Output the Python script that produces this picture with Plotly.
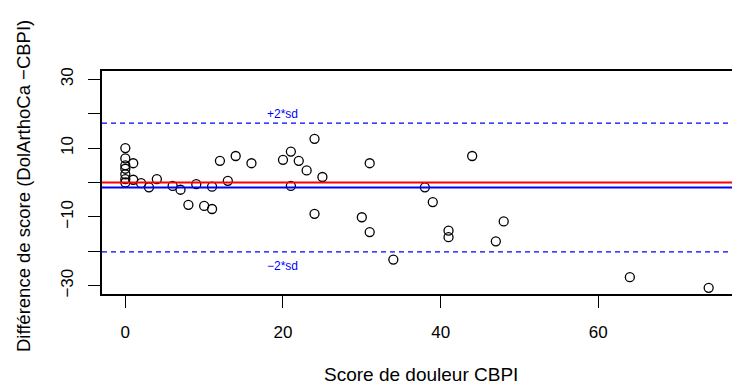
import plotly.graph_objects as go

# Bland-Altman style comparison: CBPI pain score vs. score difference
score_cbpi = [0, 0, 0, 0, 0, 0, 0, 1, 1, 2, 3, 4, 6, 7, 8, 9, 10, 11, 11, 12, 13, 14,
              16, 20, 21, 21, 22, 23, 24, 24, 25, 30, 31, 31, 34, 38, 39, 41, 41, 44,
              47, 48, 64, 74]
score_diff = [10, 7, 5, 4, 2.4, 1, 0, 5.6, 0.8, -0.2, -1.4, 1, -1, -2.1, -6.5, -0.5,
              -6.8, -1.2, -7.7, 6.3, 0.5, 7.7, 5.6, 6.6, 9, -1, 6.3, 3.5, 12.7, -9.1,
              1.6, -10.1, 5.6, -14.4, -22.4, -1.4, -5.7, -14, -15.9, 7.7, -17.1, -11.3,
              -27.5, -30.6]

mean_diff = -1.45
sd_diff = 9.35
upper_limit = mean_diff + 2 * sd_diff
lower_limit = mean_diff - 2 * sd_diff

x_ticks = [0, 20, 40, 60]
y_ticks = [-30, -20, -10, 0, 10, 20, 30]
y_tick_text = ["\u221230", "", "\u221210", "", "10", "", "30"]

x_range = [-2.96, 76.96]
y_range = [-32.4, 32.4]

FONT = "Liberation Sans, Arial, Helvetica, sans-serif"

fig = go.Figure()

fig.add_trace(go.Scatter(
    x=score_cbpi, y=score_diff, mode="markers",
    marker=dict(symbol="circle-open", size=9, color="black",
                line=dict(color="black", width=1.3)),
    hoverinfo="x+y", showlegend=False,
))

# reference lines: zero, mean difference, and +/- 2 SD limits
fig.add_shape(type="line", xref="paper", x0=0, x1=1, yref="y", y0=0, y1=0,
              line=dict(color="#ff0000", width=2))
fig.add_shape(type="line", xref="paper", x0=0, x1=1, yref="y", y0=mean_diff, y1=mean_diff,
              line=dict(color="#0000ff", width=2))
for lim in (upper_limit, lower_limit):
    fig.add_shape(type="line", xref="paper", x0=0, x1=1, yref="y", y0=lim, y1=lim,
                  line=dict(color="#0000ff", width=1.4, dash="5px,4px"))

fig.add_annotation(x=20, y=upper_limit, text="+2*sd", showarrow=False,
                   yanchor="middle", yshift=9,
                   font=dict(family=FONT, size=12, color="#0000ff"))
fig.add_annotation(x=20, y=lower_limit, text="\u22122*sd", showarrow=False,
                   yanchor="middle", yshift=-14,
                   font=dict(family=FONT, size=12, color="#0000ff"))

# axis titles
fig.add_annotation(xref="paper", yref="paper", x=0.507, y=-0.363,
                   text="Score de douleur CBPI", showarrow=False,
                   xanchor="center", yanchor="middle",
                   font=dict(family=FONT, size=19, color="black"))
fig.add_annotation(xref="paper", yref="paper", x=-0.1254, y=0.484,
                   text="Diff\u00e9rence de score (DolArthoCa \u2212CBPI)", showarrow=False,
                   textangle=-90, xanchor="center", yanchor="middle",
                   font=dict(family=FONT, size=18.5, color="black"))

fig.update_xaxes(
    range=x_range, tickvals=x_ticks, ticks="outside", ticklen=12, tickwidth=1.3,
    tickcolor="black", showline=True, linecolor="black", linewidth=1.5,
    mirror=True, showgrid=False, zeroline=False, ticklabelstandoff=10,
    tickfont=dict(family=FONT, size=17, color="black"),
)
fig.update_yaxes(
    range=y_range, tickvals=y_ticks, ticktext=y_tick_text, ticks="outside",
    ticklen=12, tickwidth=1.3, tickcolor="black", showline=True,
    linecolor="black", linewidth=1.5, mirror=False, showgrid=False,
    zeroline=False, tickangle=-90, ticklabelstandoff=8,
    tickfont=dict(family=FONT, size=17, color="black"),
)

fig.update_layout(
    width=732, height=387,
    margin=dict(l=102, r=0, t=71, b=93),
    plot_bgcolor="white", paper_bgcolor="white",
    font=dict(family=FONT),
)

fig.write_html("out.html")
